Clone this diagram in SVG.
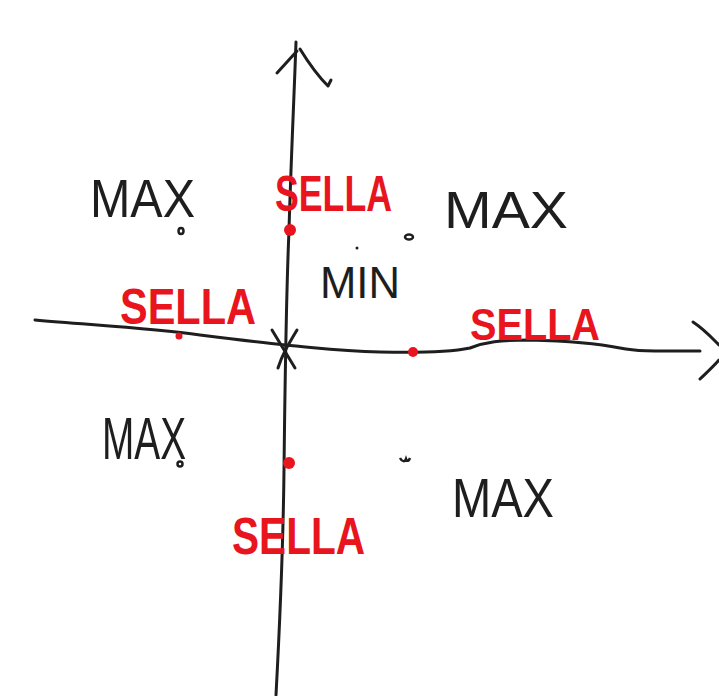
<svg xmlns="http://www.w3.org/2000/svg" width="719" height="696" viewBox="0 0 719 696">
<style>
.ax{fill:none;stroke:#1e1e1e;stroke-width:3;stroke-linecap:round;stroke-linejoin:round}
.blk{font-family:"Liberation Sans","DejaVu Sans",sans-serif;fill:#1e1e1e;font-weight:normal}
.red{font-family:"Liberation Sans","DejaVu Sans",sans-serif;fill:#e8141e;font-weight:bold}
.rd{fill:#e8141e}
.sd{fill:none;stroke:#1e1e1e;stroke-width:2.5}
</style>
<rect width="719" height="696" fill="#ffffff"/>
<g id="connectors">
<path class="ax" d="M276,695 C280,620 283,560 284,470 C285,380 286,300 289,230 C291,160 294,100 296,42"/>
<path class="ax" d="M277,73 L297,51 M300,49 C308,62 316,74 328,86 L331,80"/>
<path class="ax" d="M35,320 C90,325 150,328 200,335 C240,340 265,343 285,345 C320,348 340,351 380,352 C420,353 450,352 470,348 C485,342 500,340 530,340 C570,341 600,344 620,348 C640,352 660,351 700,351"/>
<path class="ax" d="M693,322 C705,330 712,338 719,345 M719,360 C712,368 705,374 700,379"/>
<path class="ax" d="M272,330 L295,368 M297,330 C288,345 282,355 278,368"/>
</g>
<g id="dots">
<circle class="rd" cx="290" cy="230" r="6"/>
<circle class="rd" cx="179" cy="336" r="3.5"/>
<circle class="rd" cx="413" cy="352" r="5"/>
<circle class="rd" cx="289" cy="463" r="6"/>
<ellipse class="sd" cx="181" cy="231" rx="2.5" ry="3"/>
<ellipse class="sd" cx="409" cy="237" rx="4" ry="2.5"/>
<ellipse class="sd" cx="180" cy="464" rx="2.5" ry="2.5"/>
<path class="sd" d="M400,458 C402,462 405,462 406,459 C407,462 409,461 410,458"/>
<circle cx="357" cy="248" r="1.5" fill="#1e1e1e"/>
</g>
<g id="max-top-left"><text class="blk" x="90" y="217" font-size="54" textLength="105" lengthAdjust="spacingAndGlyphs">MAX</text></g>
<g id="max-top-right"><text class="blk" x="444" y="228" font-size="52" textLength="124" lengthAdjust="spacingAndGlyphs">MAX</text></g>
<g id="min"><text class="blk" x="320" y="298" font-size="44" textLength="80" lengthAdjust="spacingAndGlyphs">MIN</text></g>
<g id="max-bottom-left"><text class="blk" x="102" y="459" font-size="60" textLength="84" lengthAdjust="spacingAndGlyphs">MAX</text></g>
<g id="max-bottom-right"><text class="blk" x="452" y="517" font-size="56" textLength="102" lengthAdjust="spacingAndGlyphs">MAX</text></g>
<g id="sella-top"><text class="red" x="275" y="211" font-size="50" textLength="117" lengthAdjust="spacingAndGlyphs">SELLA</text></g>
<g id="sella-left"><text class="red" x="120" y="324" font-size="50" textLength="136" lengthAdjust="spacingAndGlyphs">SELLA</text></g>
<g id="sella-right"><text class="red" x="470" y="340" font-size="44" textLength="130" lengthAdjust="spacingAndGlyphs">SELLA</text></g>
<g id="sella-bottom"><text class="red" x="232" y="554" font-size="52" textLength="133" lengthAdjust="spacingAndGlyphs">SELLA</text></g>
</svg>
